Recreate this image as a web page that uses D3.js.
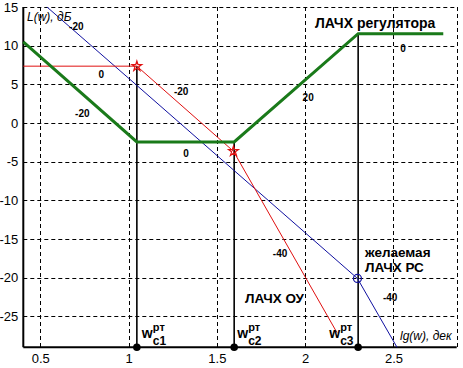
<!DOCTYPE html>
<html>
<head>
<meta charset="utf-8">
<script src="https://cdn.jsdelivr.net/npm/d3@7"></script>
<style>
body { margin: 0; background: #fff; }
svg { display: block; font-family: "Liberation Sans", Arial, sans-serif; }
</style>
</head>
<body>
<svg id="chart"></svg>
<script>
// lg(w) in decades, L(w) in dB
var xTicks = [0.5, 1, 1.5, 2, 2.5]
var yTicks = [15, 10, 5, 0, -5, -10, -15, -20, -25]

// ЛАЧХ регулятора (green)
var regX = [0.404, 1.047, 1.598, 2.3, 2.782]
var regY = [10.5, -2.45, -2.45, 11.55, 11.55]
// ЛАЧХ ОУ (red)
var plantX = [0.404, 1.047, 1.594, 2.18]
var plantY = [7.35, 7.35, -3.65, -27.1]
// желаемая ЛАЧХ РС (blue)
var desiredX = [0.538, 1.047, 2.296, 2.52]
var desiredY = [15, 4.86, -20.1, -29]

// crossover frequencies w_c1..w_c3
var crossX = [1.047, 1.598, 2.3]
var crossTop = [7.35, -2.45, 11.55]
var crossSub = ['c1', 'c2', 'c3']

// slope labels, dB/dec
var slopeText = ['-20', '0', '-20', '-20', '0', '20', '0', '-40', '-40']
var slopeX = [0.704, 0.845, 0.738, 1.298, 1.326, 2.017, 2.554, 1.858, 2.481]
var slopeY = [12.5, 6.3, 1.25, 4.2, -3.9, 3.3, 9.65, -16.8, -22.5]

var width = 463, height = 368
// note: "top" is a window property, so use other names
var mLeft = 23.3, mRight = 456.7, mTop = 7, mBottom = 347.3

var svg = d3.select('#chart')
    .attr('width', width)
    .attr('height', height)

var x = d3.scaleLinear().domain([0.404, 2.858]).range([mLeft, mRight])
var y = d3.scaleLinear().domain([-29, 15]).range([mBottom, mTop])

// dashed grid
var grid = svg.append('g')
    .attr('stroke', '#000')
    .attr('stroke-width', 1)
    .attr('stroke-dasharray', '4,3')
grid.selectAll('.gx')
    .data(xTicks.concat([2.858]))
    .enter().append('line')
    .attr('x1', d => Math.round(x(d)) + 0.5)
    .attr('x2', d => Math.round(x(d)) + 0.5)
    .attr('y1', mTop)
    .attr('y2', mBottom)
grid.selectAll('.gy')
    .data(yTicks)
    .enter().append('line')
    .attr('y1', d => Math.round(y(d)) + 0.5)
    .attr('y2', d => Math.round(y(d)) + 0.5)
    .attr('x1', mLeft)
    .attr('x2', mRight)

// axes
svg.append('g')
    .attr('transform', 'translate(0,' + mBottom + ')')
    .call(d3.axisBottom(x).tickValues(xTicks).tickSize(0).tickPadding(6).tickFormat(d => String(d)))
svg.append('g')
    .attr('transform', 'translate(' + mLeft + ',0)')
    .call(d3.axisLeft(y).tickValues(yTicks).tickSize(0).tickPadding(5).tickFormat(d => String(d)))
svg.selectAll('.domain').remove()
svg.selectAll('.tick text')
    .attr('font-size', 13)
    .attr('font-family', '"Liberation Sans", Arial, sans-serif')
    .attr('fill', '#000')

svg.append('line')
    .attr('x1', mLeft).attr('x2', mRight)
    .attr('y1', mBottom).attr('y2', mBottom)
    .attr('stroke', '#000').attr('stroke-width', 2)
svg.append('line')
    .attr('x1', mLeft).attr('x2', mLeft)
    .attr('y1', mTop).attr('y2', mBottom)
    .attr('stroke', '#000').attr('stroke-width', 2)

var line = d3.line().x(d => x(d[0])).y(d => y(d[1]))

// vertical lines at crossover frequencies
svg.selectAll('.vline')
    .data(crossX)
    .enter().append('line')
    .attr('x1', d => x(d)).attr('x2', d => x(d))
    .attr('y1', (d, i) => y(crossTop[i]))
    .attr('y2', mBottom)
    .attr('stroke', '#000')
    .attr('stroke-width', 1.6)

svg.append('path')
    .datum(d3.zip(desiredX, desiredY))
    .attr('d', line)
    .attr('fill', 'none')
    .attr('stroke', '#1010a0')
    .attr('stroke-width', 1)

svg.append('path')
    .datum(d3.zip(plantX, plantY))
    .attr('d', line)
    .attr('fill', 'none')
    .attr('stroke', '#e01010')
    .attr('stroke-width', 1)

svg.append('path')
    .datum(d3.zip(regX, regY))
    .attr('d', line)
    .attr('fill', 'none')
    .attr('stroke', '#1a7a1a')
    .attr('stroke-width', 3)

// markers
svg.selectAll('.star')
    .data([1, 2])
    .enter().append('path')
    .attr('d', d3.symbol().type(d3.symbolStar).size(30))
    .attr('transform', i => 'translate(' + x(plantX[i]) + ',' + y(plantY[i]) + ')')
    .attr('fill', 'none')
    .attr('stroke', '#e01010')
    .attr('stroke-width', 1.2)

svg.append('circle')
    .attr('cx', x(desiredX[2]))
    .attr('cy', y(desiredY[2]))
    .attr('r', 4)
    .attr('fill', 'none')
    .attr('stroke', '#1010a0')
    .attr('stroke-width', 1.2)

svg.selectAll('.dot')
    .data(crossX)
    .enter().append('circle')
    .attr('cx', d => x(d))
    .attr('cy', mBottom)
    .attr('r', 3.8)
    .attr('fill', '#000')

// slope labels
svg.selectAll('.slope')
    .data(slopeText)
    .enter().append('text')
    .attr('x', (d, i) => x(slopeX[i]))
    .attr('y', (d, i) => y(slopeY[i]) + 4)
    .attr('text-anchor', 'middle')
    .attr('font-size', 10)
    .attr('font-weight', 'bold')
    .text(d => d)

// w labels
var wdx = [5, 3, -29]
crossX.forEach(function(d, i) {
    var px = x(d) + wdx[i]
    svg.append('text')
        .attr('x', px).attr('y', 338)
        .attr('font-size', 14).attr('font-weight', 'bold')
        .text('w')
    svg.append('text')
        .attr('x', px + 11).attr('y', 331)
        .attr('font-size', 11).attr('font-weight', 'bold')
        .text('рт')
    svg.append('text')
        .attr('x', px + 11).attr('y', 345)
        .attr('font-size', 12).attr('font-weight', 'bold')
        .text(crossSub[i])
})

// captions
svg.append('text')
    .attr('x', 27).attr('y', 21)
    .attr('font-size', 12).attr('font-style', 'italic')
    .text('L(w), дБ')
svg.append('text')
    .attr('x', 400).attr('y', 340)
    .attr('font-size', 12).attr('font-style', 'italic')
    .text('lg(w), дек')
svg.append('text')
    .attr('x', 315).attr('y', 28)
    .attr('font-size', 14).attr('font-weight', 'bold')
    .text('ЛАЧХ регулятора')
svg.append('text')
    .attr('x', 365).attr('y', 257)
    .attr('font-size', 13.5).attr('font-weight', 'bold')
    .text('желаемая')
svg.append('text')
    .attr('x', 365).attr('y', 272)
    .attr('font-size', 13.5).attr('font-weight', 'bold')
    .text('ЛАЧХ РС')
svg.append('text')
    .attr('x', 245).attr('y', 303)
    .attr('font-size', 13.5).attr('font-weight', 'bold')
    .text('ЛАЧХ ОУ')
</script>
</body>
</html>
